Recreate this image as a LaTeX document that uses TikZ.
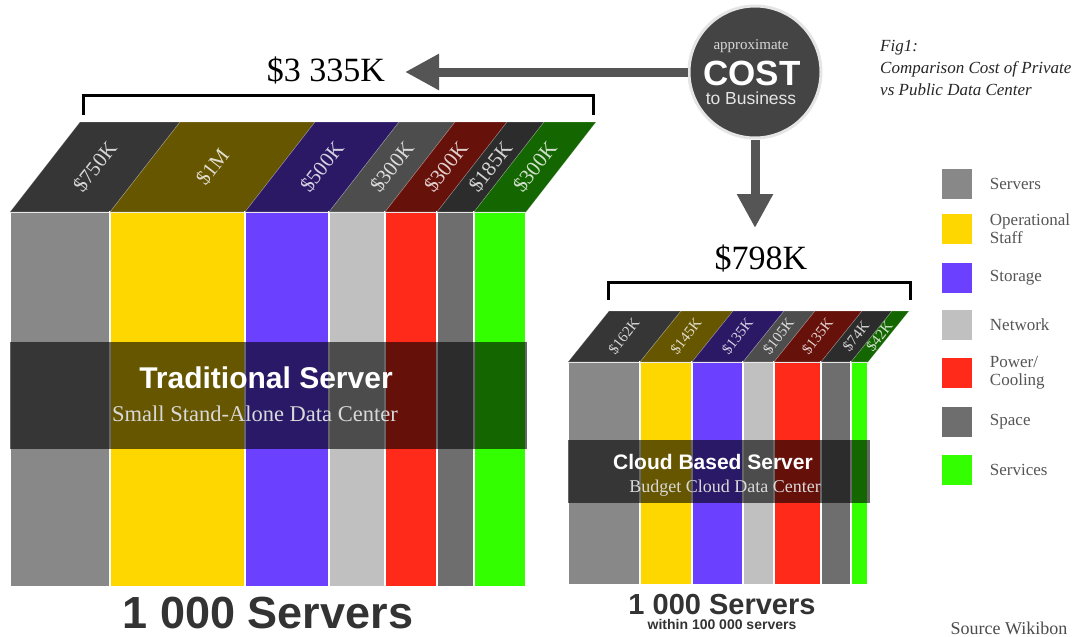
\documentclass[tikz,border=0pt]{standalone}
\usepackage{fontspec}
\setmainfont{Liberation Serif}
\setsansfont{Liberation Sans}
\usetikzlibrary{arrows.meta, positioning, shadows}

\definecolor{srvC}{HTML}{888888}
\definecolor{staffC}{HTML}{FFD700}
\definecolor{storC}{HTML}{6B40FF}
\definecolor{netC}{HTML}{C0C0C0}
\definecolor{powC}{HTML}{FF2A1A}
\definecolor{spaceC}{HTML}{6E6E6E}
\definecolor{servC}{HTML}{33FF00}
\definecolor{circC}{HTML}{444444}
\definecolor{arrC}{HTML}{555555}
\definecolor{inkC}{HTML}{333333}
\definecolor{legC}{HTML}{555555}

\tikzset{
  colbox/.style={draw=white, line width=1.2pt},
  topbox/.style={draw=white, draw opacity=0.25, line width=0.6pt},
  band/.style={fill=black, fill opacity=0.6},
  bigslab/.style={text=white, text opacity=0.8, rotate=52, inner sep=0pt, font=\fontsize{21}{21}\selectfont},
  smallslab/.style={text=white, text opacity=0.8, rotate=52, inner sep=0pt, font=\fontsize{15}{15}\selectfont},
  bracket/.style={line width=3pt, line join=miter},
  costarrow/.style={draw=arrC, line width=9pt, -{Triangle[length=34pt, width=34pt]}},
  legbox/.style={draw=white, line width=2.5pt, minimum size=33pt, inner sep=0pt,
    drop shadow={opacity=0.35, shadow xshift=0.8pt, shadow yshift=-1.5pt}},
  legtxt/.style={anchor=west, align=left, text=legC, inner sep=0pt,
    font=\fontsize{17}{18}\selectfont},
  total/.style={inner sep=0pt, font=\fontsize{34}{36}\selectfont}
}

\begin{document}
\begin{tikzpicture}[x=1pt, y=-1pt]
  \useasboundingbox[fill=white] (0,0) rectangle (1080,637);

  % traditional server stack
  \foreach \xa/\xb/\col/\lab in {10/110/srvC/{\$750K}, 110/245/staffC/{\$1M},
      245/329/storC/{\$500K}, 329/385/netC/{\$300K}, 385/437/powC/{\$300K},
      437/474/spaceC/{\$185K}, 474/526/servC/{\$300K}} {
    \fill[\col, colbox] (\xa,212) rectangle (\xb,587);
    \fill[\col!40!black, topbox] (\xa,212) -- (\xb,212) -- (\xb+70,122) -- (\xa+70,122) -- cycle;
    \node[bigslab] at ({(\xa+\xb)/2+35},167) {\lab};
  }
  \fill[band] (10,342) rectangle (527,449);
  \node[text=white, inner sep=0pt, font=\sffamily\bfseries\fontsize{30}{30}\selectfont] (tradTitle) at (266,378) {Traditional Server};
  \node[text=white!85!black, inner sep=0pt, font=\fontsize{22.5}{23}\selectfont] (tradSub) at (255,414) {Small Stand-Alone Data Center};

  % cloud server stack
  \foreach \xa/\xb/\col/\lab in {568/640/srvC/{\$162K}, 640/692/staffC/{\$145K},
      692/743/storC/{\$135K}, 743/774/netC/{\$105K}, 774/821/powC/{\$135K},
      821/851/spaceC/{\$74K}, 851/868/servC/{\$42K}} {
    \fill[\col, colbox] (\xa,362) rectangle (\xb,585);
    \fill[\col!40!black, topbox] (\xa,362) -- (\xb,362) -- (\xb+41,311) -- (\xa+41,311) -- cycle;
    \node[smallslab] at ({(\xa+\xb)/2+20},336.5) {\lab};
  }
  \fill[band] (568,440) rectangle (870,503);
  \node[text=white, inner sep=0pt, font=\sffamily\bfseries\fontsize{21}{22}\selectfont] (cloudTitle) at (713,462) {Cloud Based Server};
  \node[text=white!85!black, inner sep=0pt, font=\fontsize{18}{18}\selectfont] (cloudSub) at (725,488) {Budget Cloud Data Center};

  % brackets and totals
  \draw[bracket] (83,115) -- (83,95) -- (593,95) -- (593,115);
  \draw[bracket] (608,300) -- (608,282) -- (910,282) -- (910,300);
  \node[total] (tradTotal) at (326,70) {\$3 335K};
  \node[total] (cloudTotal) at (761,258) {\$798K};

  % cost circle
  \node[circle, fill=circC, draw=gray!20, line width=3pt, minimum size=132pt] (cost) at (755,72) {};
  \node[text=white!85!black, font=\fontsize{15}{15}\selectfont] (costA) at (751,46) {approximate};
  \node[text=white, font=\sffamily\bfseries\fontsize{35}{35}\selectfont] (costB) at (752,73) {COST};
  \node[text=white!90!black, font=\sffamily\fontsize{17.5}{18}\selectfont] (costC) at (751,98) {to Business};
  \coordinate (tipA) at (405,72);
  \coordinate (tipB) at (755,228);
  \draw[costarrow] (cost.west) -- (tipA);
  \draw[costarrow] (cost.south) -- (tipB);

  % caption
  \node[anchor=north west, align=left, inner sep=0pt, text=black!85, font=\itshape\fontsize{17}{22}\selectfont] (fig) at (880,40)
    {Fig1:\\Comparison Cost of Private\\vs Public Data Center};

  % legend
  \node[legbox, fill=srvC] (lg1) at (957,184) {};
  \node[legtxt, right=15pt of lg1] {Servers};
  \node[legbox, fill=staffC] (lg2) at (957,229) {};
  \node[legtxt, right=15pt of lg2] {Operational\\Staff};
  \node[legbox, fill=storC] (lg3) at (957,278) {};
  \node[legtxt, right=15pt of lg3] {Storage};
  \node[legbox, fill=netC] (lg4) at (957,325) {};
  \node[legtxt, right=15pt of lg4] {Network};
  \node[legbox, fill=powC] (lg5) at (957,373) {};
  \node[legtxt, right=15pt of lg5] {Power/\\Cooling};
  \node[legbox, fill=spaceC] (lg6) at (957,422) {};
  \node[legtxt, right=15pt of lg6] {Space};
  \node[legbox, fill=servC] (lg7) at (957,470) {};
  \node[legtxt, right=15pt of lg7] {Services};

  % bottom captions
  \node[text=inkC, inner sep=0pt, font=\sffamily\bfseries\fontsize{45}{45}\selectfont] (tradCount) at (268,613) {1 000 Servers};
  \node[text=inkC, inner sep=0pt, font=\sffamily\bfseries\fontsize{29}{29}\selectfont] (cloudCount) at (722,605) {1 000 Servers};
  \node[text=inkC, inner sep=0pt, font=\sffamily\bfseries\fontsize{14}{14}\selectfont, below=4pt of cloudCount] (cloudNote) {within 100 000 servers};
  \node[text=black!70, inner sep=0pt, font=\fontsize{18}{18}\selectfont] (source) at (1009,628) {Source Wikibon};
\end{tikzpicture}
\end{document}
